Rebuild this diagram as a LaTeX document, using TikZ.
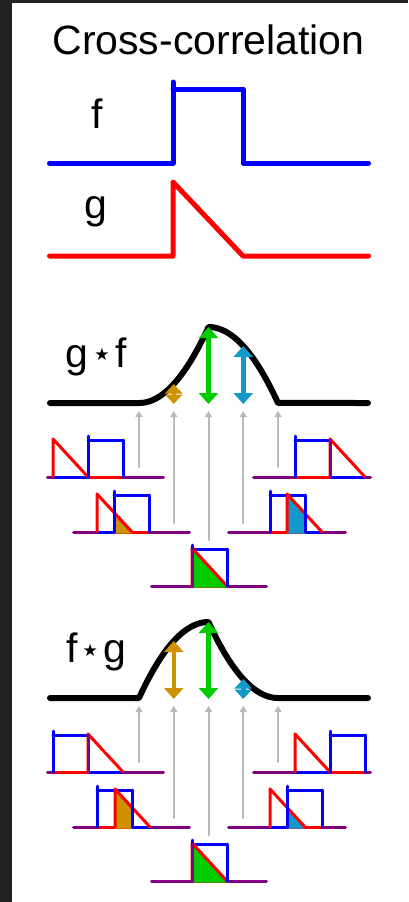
\documentclass[tikz,border=0pt]{standalone}
\usepackage{fontspec}
\setmainfont{Liberation Sans}
\newfontfamily\starfont{DejaVu Sans}
\usetikzlibrary{arrows.meta}
\definecolor{fblue}{RGB}{0,0,255}
\definecolor{gred}{RGB}{255,0,0}
\definecolor{bothpurple}{RGB}{128,0,128}
\definecolor{goldfill}{RGB}{204,146,0}
\definecolor{greenfill}{RGB}{0,204,0}
\definecolor{cyanfill}{RGB}{17,153,204}
\definecolor{guide}{RGB}{185,185,185}
\definecolor{pagegrey}{RGB}{34,34,34}
\tikzset{
	sigline/.style={line width=5pt},
	smallline/.style={line width=3pt},
	curveline/.style={line width=6pt,black},
	bar/.style={line width=4.5pt,{Triangle[width=19pt,length=11pt]}-{Triangle[width=19pt,length=11pt]}},
	shortbar/.style={line width=4.5pt,{Triangle[width=17pt,length=9.5pt]}-{Triangle[width=17pt,length=9.5pt]}},
	guidearrow/.style={guide,line width=2pt,-{Triangle[width=7pt,length=6pt]}},
	lbl/.style={font=\fontsize{41}{49}\selectfont,inner sep=0pt,anchor=base}
}
\begin{document}
\begin{tikzpicture}[line cap=round,line join=round,x=1pt,y=-1pt]
	\useasboundingbox (0,0) rectangle (408,902);
	\fill[pagegrey] (0,0) rectangle (408,902);
	\fill[white] (12,3) rectangle (408,902);
	% title and the two signals
	\node[lbl] (title) at (208.5,54) {Cross-correlation};
	\node[lbl] (lblf) at (97,128) {f};
	\node[lbl] (lblg) at (96,218) {g};
	\draw[sigline,fblue] (49.5,163) -- (173,163) -- (173,82) (173,89) -- (243,89) -- (243,163) -- (368.5,163);
	\draw[sigline,gred] (49.5,256) -- (173,256) -- (173,182) -- (243,256) -- (368.5,256);
	% g star f
	\node[lbl,anchor=base west] (lblgf) at (65.4,367) {g\hspace{6pt}\raisebox{6.5pt}{\starfont\fontsize{17}{17}\selectfont ★}\hspace{6pt}f};
	\draw[curveline] (50,403) -- (139,403)
		-- plot[domain=0:1,samples=40,variable=\p] ({139+69.5*\p},{403-76*\p*\p})
		-- plot[domain=0:1,samples=40,variable=\p] ({208.5+69.5*\p},{327+76*\p*\p}) -- (368,403);
	\foreach \x/\y/\c/\st in {173.75/384/goldfill/shortbar,208.5/327/greenfill/bar,243.25/346/cyanfill/bar}
	\draw[\st,\c] (\x,404) -- (\x,\y);
	% f star g
	\node[lbl,anchor=base west] (lblfg) at (66.6,662) {f\hspace{4.5pt}\raisebox{5.5pt}{\starfont\fontsize{17}{17}\selectfont ★}\hspace{6pt}g};
	\draw[curveline] (50,698) -- (139,698)
		-- plot[domain=0:1,samples=40,variable=\p] ({139+69.5*\p},{622+76*(1-\p)*(1-\p)})
		-- plot[domain=0:1,samples=40,variable=\p] ({208.5+69.5*\p},{698-76*(1-\p)*(1-\p)}) -- (368,698);
	\foreach \x/\y/\c/\st in {173.75/641/goldfill/bar,208.5/622/greenfill/bar,243.25/679/cyanfill/shortbar}
	\draw[\st,\c] (\x,699) -- (\x,\y);
	% grey guides from the shifted pairs
	\foreach \dy in {0,295}
	\foreach \x/\y in {139/467,173.75/523,208.5/540,243.25/523,278/467}
	\draw[guidearrow] (\x,\y+\dy) -- (\x,411+\dy);
	% shifted pairs: base, left, right, triangle start, box start, fill, box edges
	\foreach \b/\L/\R/\t/\s/\fc/\el/\er in {
		477/47.5/163.5/53/88/goldfill/fblue/fblue,
		532/73.5/189.5/97/114/goldfill/fblue/fblue,
		586/151.5/266.5/192/192/greenfill/bothpurple/fblue,
		532/228.5/345.5/287/270/cyanfill/fblue/fblue,
		477/253.5/370.5/330/295/cyanfill/fblue/bothpurple,
		772/47.5/163.5/88/53/goldfill/fblue/bothpurple,
		827/73.5/189.5/115/97/goldfill/fblue/fblue,
		881/151.5/266.5/192/192/greenfill/bothpurple/fblue,
		827/228.5/345.5/270/287/cyanfill/fblue/fblue,
		772/253.5/370.5/295/330/cyanfill/fblue/fblue}{
		\draw[smallline,bothpurple] (\L,\b) -- (\R,\b);
		\draw[smallline,fblue] (\t,\b) -- ++(35,0);
		\draw[smallline,gred] (\s,\b) -- ++(35,0);
		\begin{scope}
			\clip (\s,\b+1.5) rectangle ++(35,-45);
			\fill[\fc] (\t,\b+1.5) -- ++(0,-39.5) -- (\t+35,\b) -- ++(0,1.5) -- cycle;
		\end{scope}
		\draw[smallline,fblue] (\s,\b-37) -- ++(35,0);
		\draw[smallline,gred] (\t,\b) -- ++(0,-38) -- (\t+35,\b);
		\draw[smallline,fblue] (\s,\b) -- ++(0,-41);
		\draw[smallline,\el] (\s,\b) -- ++(0,-37);
		\draw[smallline,\er] (\s+35,\b) -- ++(0,-37);
	}
\end{tikzpicture}
\end{document}
